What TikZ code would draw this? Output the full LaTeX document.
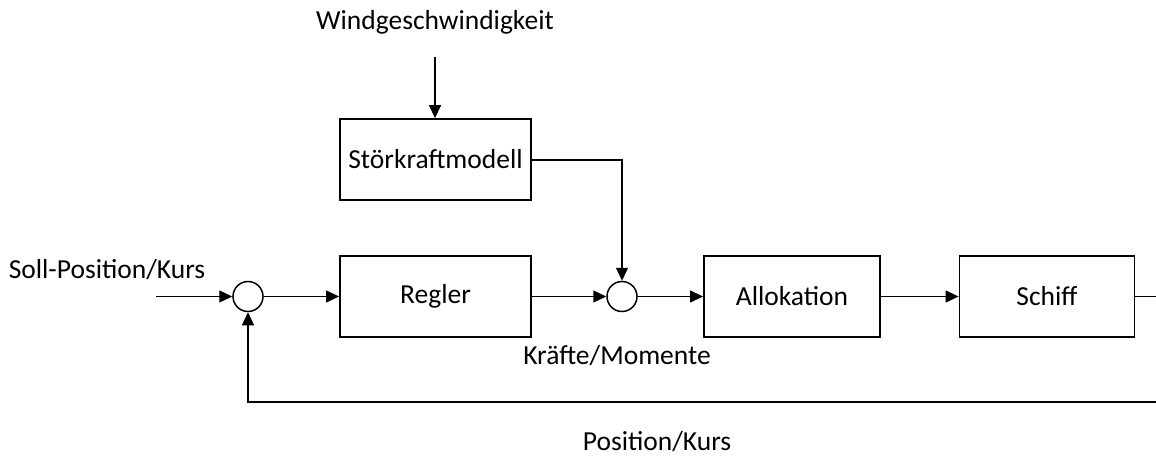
\documentclass[tikz,border=0pt]{standalone}
\usepackage{fontspec}
\setmainfont{Carlito}
\usetikzlibrary{arrows.meta}
\begin{document}
\begin{tikzpicture}[x=1pt,y=-1pt,
  blk/.style={draw,line width=1.8pt,minimum height=81pt,inner sep=0pt,font=\fontsize{27.5}{32}\selectfont},
  sumc/.style={draw,circle,line width=1.5pt,minimum size=30pt,inner sep=0pt},
  lbl/.style={font=\fontsize{27.5}{32}\selectfont,inner sep=0pt},
  conn/.style={line width=1.3pt,-{Triangle[length=13pt,width=12pt]}},
  plain/.style={line width=1.3pt}]
\useasboundingbox (0,0) rectangle (1156,457);
\node[blk,minimum width=191pt] (stoer) at (435.5,159.5) {Störkraftmodell};
\node[blk,minimum width=191pt] (regler) at (435.5,296.5) {Regler};
\node[blk,minimum width=176pt] (alloc) at (792,296.5) {Allokation};
\node[blk,minimum width=175pt] (schiff) at (1047,296.5) {Schiff};
\node[sumc] (s1) at (248,296.5) {};
\node[sumc] (s2) at (622,296.5) {};
\node[lbl] (wind) at (435,22) {Windgeschwindigkeit};
\node[lbl] (soll) at (107,270) {Soll-Position/Kurs};
\node[lbl] (kraefte) at (617,356) {Kräfte/Momente};
\node[lbl] (pos) at (657,442) {Position/Kurs};
\coordinate (windtop) at (435,57);
\coordinate (in) at (156,296.5);
\coordinate (outR) at (1156,296.5);
\coordinate (fbR) at (1156,402);
\draw[conn] (windtop) -- (stoer.north -| windtop);
\draw[conn] (in) -- (s1.west);
\draw[conn] (s1.east) -- (regler.west);
\draw[conn] (regler.east) -- (s2.west);
\draw[conn] (s2.east) -- (alloc.west);
\draw[conn] (alloc.east) -- (schiff.west);
\draw[conn] (stoer.east |- 0,160) -| (s2.north);
\draw[plain] (schiff.east) -- (outR);
\draw[conn] (fbR) -| (s1.south);
\end{tikzpicture}
\end{document}
